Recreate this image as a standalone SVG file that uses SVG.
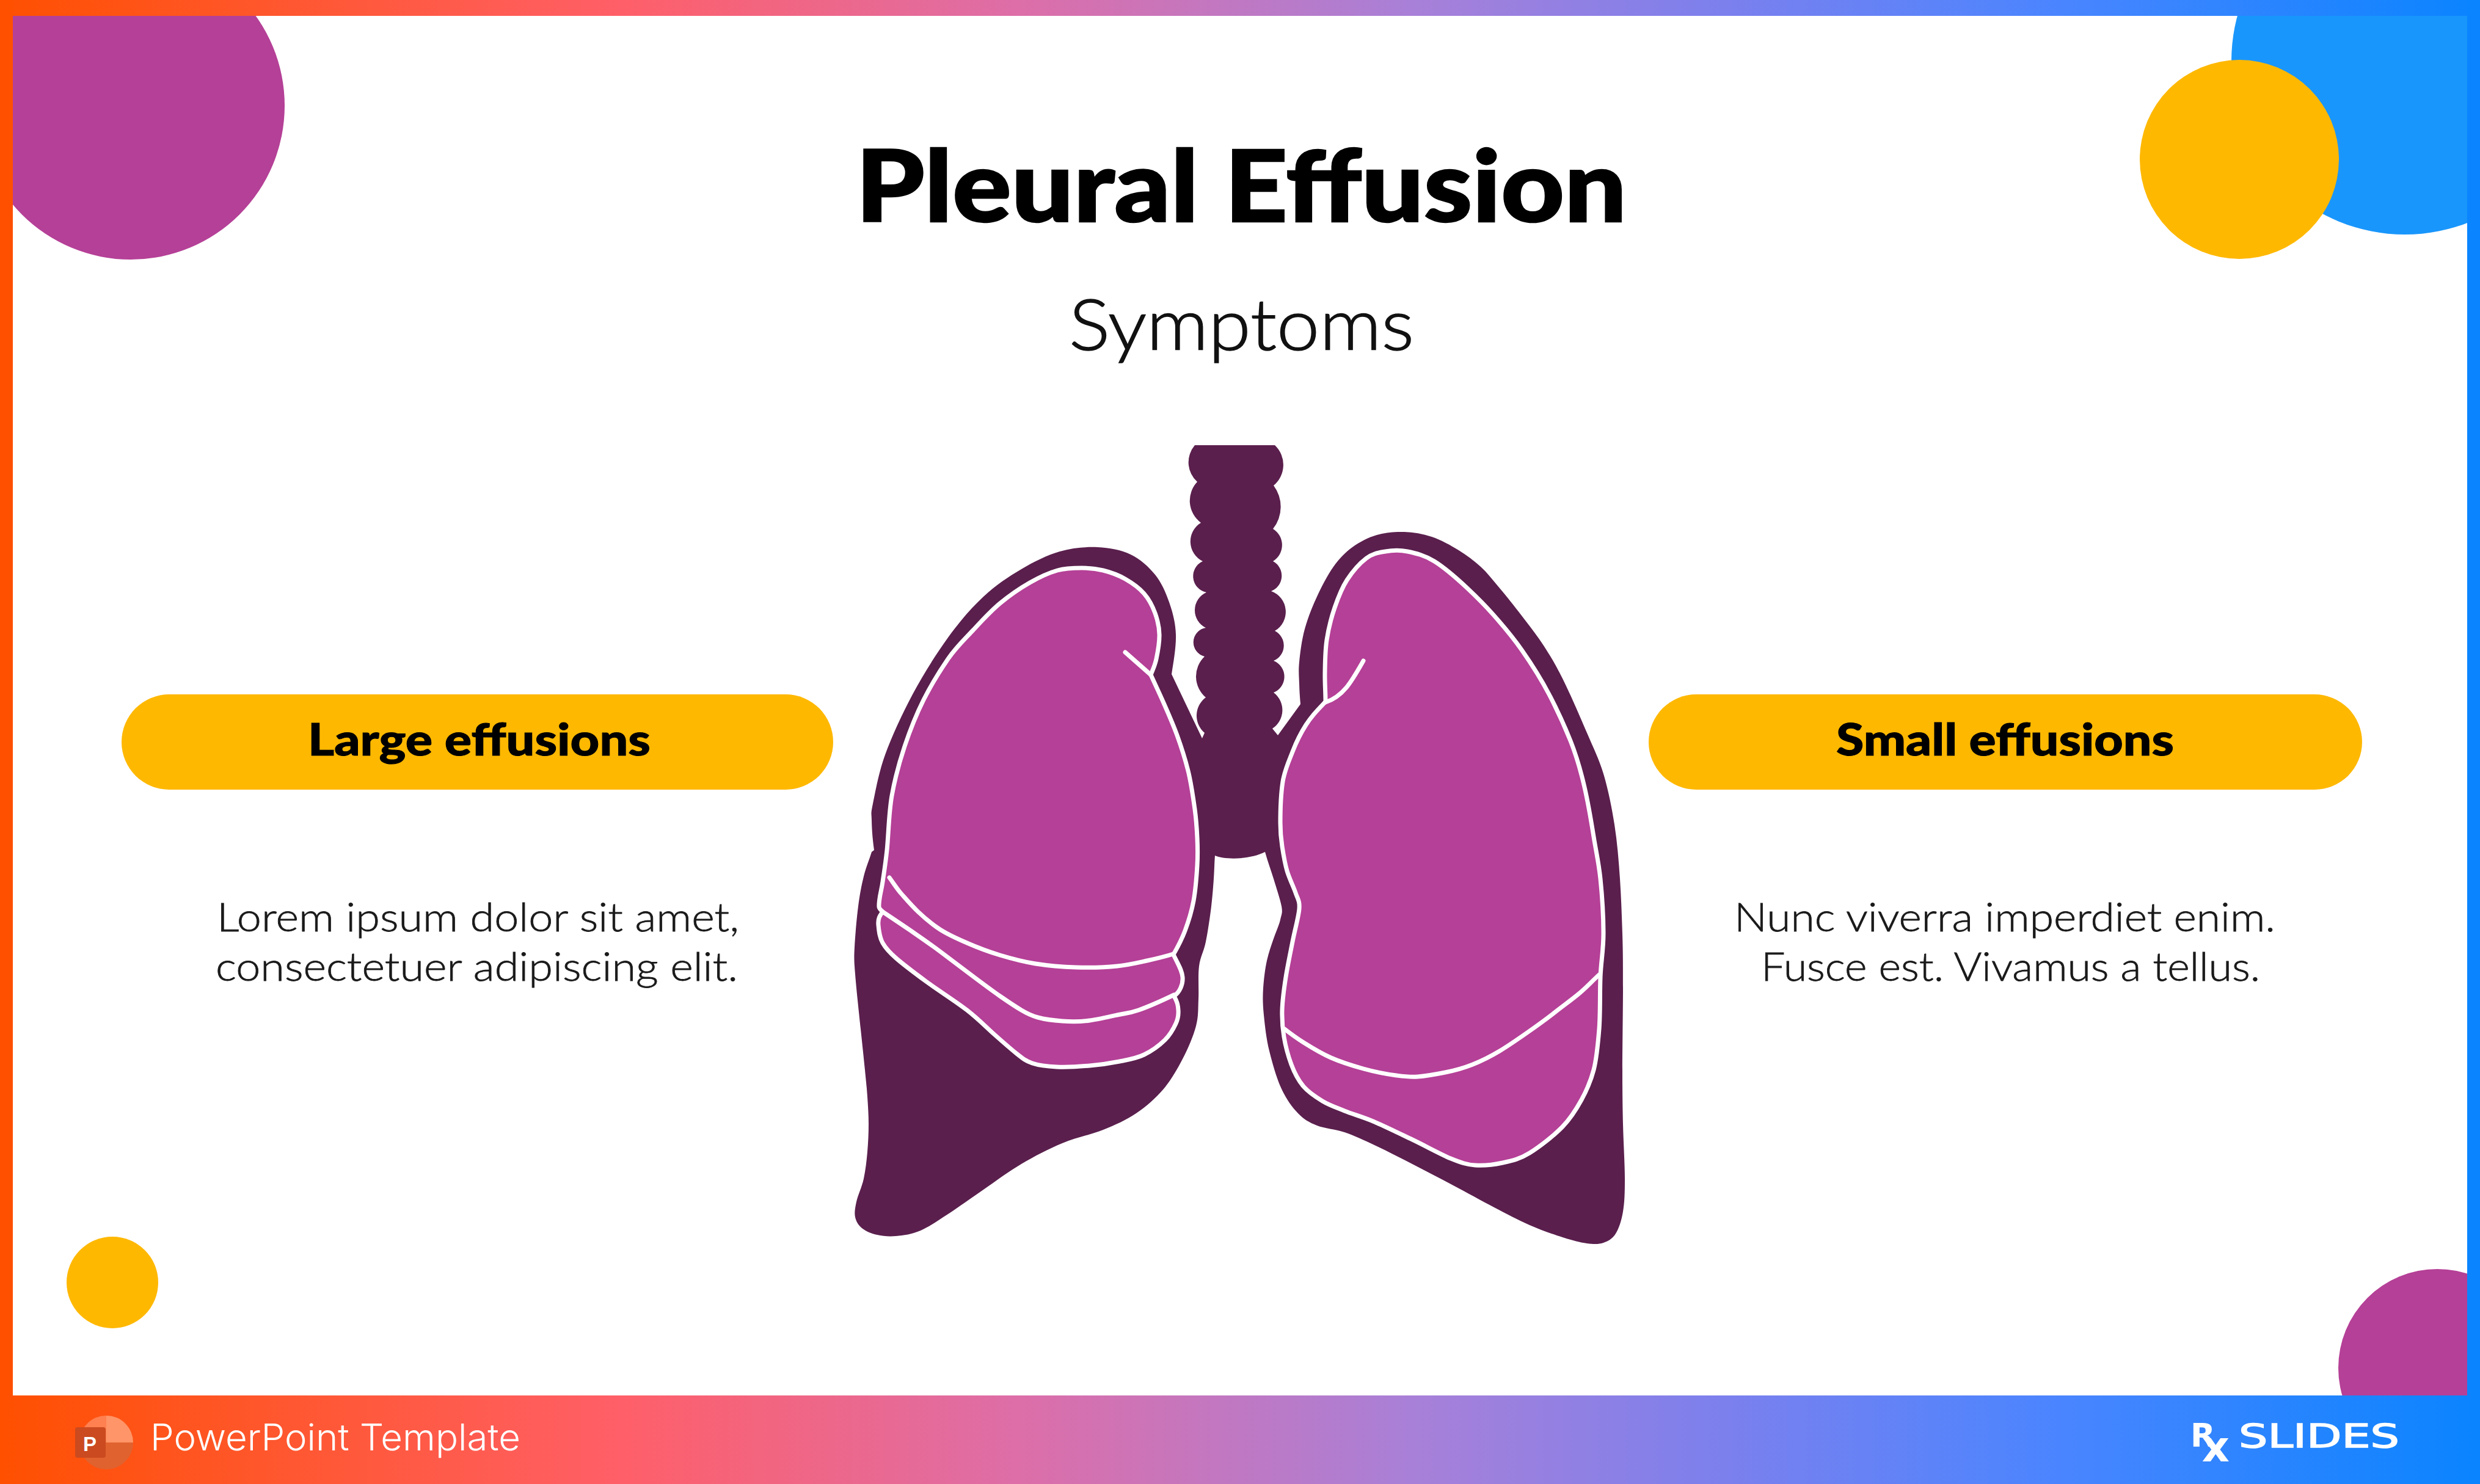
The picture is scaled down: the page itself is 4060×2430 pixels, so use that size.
<svg xmlns="http://www.w3.org/2000/svg" width="4060" height="2430" viewBox="0 0 4060 2430">
<defs>
<linearGradient id="bar" x1="0" y1="0" x2="4060" y2="0" gradientUnits="userSpaceOnUse">
<stop offset="0" stop-color="#FF5000"/><stop offset="0.25" stop-color="#FF5F68"/><stop offset="0.41" stop-color="#DD6EA8"/><stop offset="0.57" stop-color="#A880D8"/><stop offset="0.7" stop-color="#7A80EE"/><stop offset="0.83" stop-color="#4A85FF"/><stop offset="1" stop-color="#0A84FF"/>
</linearGradient>
</defs>
<style>
.pink{fill:#B54097}
.gold{fill:#FFB800}
.dark{fill:#5A1F4D}
.lung{fill:#B54097;stroke:#FFFFFF;stroke-width:7;stroke-linejoin:round}
.line{fill:none;stroke:#FFFFFF;stroke-width:7;stroke-linecap:round}
text{font-family:"Lato","Liberation Sans",sans-serif}
.head{font-size:162px;font-weight:900;fill:#000;stroke:#000;stroke-width:2.5px}
.sub{font-size:116px;font-weight:300;fill:#111;stroke:#111;stroke-width:1.5px}
.tag{font-size:72px;font-weight:900;fill:#000;stroke:#000;stroke-width:1px}
.body{font-size:66px;font-weight:300;fill:#1A1A1A;stroke:#1A1A1A;stroke-width:0.8px}
.foot{font-family:"DejaVu Sans",sans-serif;fill:#FFFFFF}
</style>
<rect width="4060" height="2430" fill="#FFFFFF"/>
<g id="decor">
<circle class="pink" cx="214" cy="173" r="252"/>
<circle cx="3937" cy="100" r="284" fill="#1996FC"/>
<circle class="gold" cx="3666" cy="261" r="163"/>
<circle class="gold" cx="184" cy="2100" r="75"/>
<circle class="pink" cx="3990" cy="2240" r="162"/>
</g>
<g id="frame">
<rect x="0" y="0" width="4060" height="26" fill="url(#bar)"/>
<rect x="0" y="0" width="21" height="2430" fill="#FF5000"/>
<rect x="4039" y="0" width="21" height="2430" fill="#0A84FF"/>
<rect x="0" y="2285" width="4060" height="145" fill="url(#bar)"/>
</g>
<g id="title">
<text class="head" x="1401" y="363" textLength="1262" lengthAdjust="spacingAndGlyphs">Pleural Effusion</text>
<text class="sub" x="1750" y="573" textLength="565" lengthAdjust="spacingAndGlyphs">Symptoms</text>
</g>
<g id="lungs">
<path id="body" class="dark" d="M1956,729 A43,43 0 0 0 1960,789 A45,45 0 0 0 1966,856 A36,36 0 0 0 1969,919 A27,27 0 0 0 1975,970 A32,32 0 0 0 1974,1028 A24,24 0 0 0 1972,1075 A45,45 0 0 0 1974,1142 A37,37 0 0 0 1972,1200 L1968,1209 L1918,1104
C1921,1085 1925.7,1058.7 1925,1039 S1919.7,1002.3 1914,986 S1901.5,954 1891,941 S1866.7,915.5 1851,908 S1816.3,896.8 1797,896 S1755.8,897 1735,903 S1692.8,919.7 1672,932 S1630,958.3 1610,977 S1571.3,1017.3 1552,1044 S1511,1105 1494,1137 S1459.8,1206.2 1449,1236 S1432.7,1298.2 1429,1316 S1426.7,1330.3 1427,1343 S1428,1370 1431,1392 L1427,1395
C1423,1408 1417.7,1420 1414,1435 S1407.5,1465 1405,1484 S1400,1532.5 1399,1551 S1398.3,1572.7 1400,1595 S1406.3,1659 1409,1685 S1414.2,1733.5 1416,1752 S1419,1781 1420,1796 S1422,1826 1422,1841 S1421.3,1871 1420,1886 S1417,1916 1414,1930 S1404.3,1957.5 1402,1968 S1398.5,1986 1400,1993 S1405,2006 1411,2011 S1426.7,2020 1436,2022 S1455,2025 1467,2024 S1493,2021 1507,2015 S1535,1999 1552,1988 S1590,1961.7 1610,1948 S1650.5,1918.7 1672,1906 S1716.7,1881.3 1739,1872 S1786,1858 1806,1850 S1843.5,1834 1860,1823 S1892.3,1798 1905,1783 S1927,1751 1936,1734 S1953.7,1696.3 1958,1680 S1961.2,1652.3 1962,1636 S1961,1597.7 1963,1582 S1970.7,1558.3 1974,1542 S1981,1501 1983,1484 S1986,1453 1987,1439 S1988,1414 1989,1401
C2005,1408 2045,1408 2071,1395 C2075,1410 2080.5,1424 2085,1439 S2096,1473 2098,1484 S2098,1497 2096,1506 S2088.7,1526 2085,1537 S2077,1559.5 2074,1573 S2069,1603 2068,1618 S2067.3,1645 2069,1662 S2073,1701 2078,1721 S2090,1766 2098,1783 S2115.3,1813 2125,1823 S2143.3,1838 2156,1843 S2185.3,1848.7 2201,1854 S2231.5,1866.3 2250,1875 S2290.5,1895 2312,1906 S2356.7,1929.2 2379,1941 S2425.2,1966.2 2446,1977 S2485.3,1997.8 2504,2006 S2542.3,2021 2558,2026 S2587,2034.5 2598,2036 S2617.2,2037.7 2625,2035 S2639.7,2028.5 2645,2020 S2654.5,1999 2657,1984 S2660,1954 2660,1930 S2657.7,1871 2657,1841 S2656,1789 2656,1752 S2657,1655 2657,1618 S2657,1559 2656,1529 S2654,1469 2652,1439 S2647.5,1378.7 2643,1350 S2632.5,1292 2625,1267 S2609,1226 2598,1200 S2570,1135 2558,1111 S2538,1074 2527,1057 S2503,1023.7 2491,1008 S2466,976 2455,963 S2435,938 2424,928 S2401,909 2388,901 S2359,884 2344,879 S2314,871.5 2299,871 S2268,872 2254,876 S2226,887.3 2214,896 S2192.7,914.5 2183,928 S2164,960 2156,977 S2141,1012 2136,1030 S2128.5,1069 2127,1084 S2126.7,1108.5 2127,1120 S2128,1142 2129,1153
L2092,1204 L2083,1193 A36,36 0 0 0 2085,1134 A28,28 0 0 0 2085,1082 A27,27 0 0 0 2087,1033 A36,36 0 0 0 2081,968 A27,27 0 0 0 2084,919 A31,31 0 0 0 2084,866 A58,58 0 0 0 2085,795 A44,44 0 0 0 2087,729 Z"/>
<path id="left-lung" class="lung" d="M1884,1105 C1887,1097 1890.7,1090 1893,1079 S1898.3,1051.5 1898,1039 S1895,1015 1891,1004 S1881,981.3 1873,972 S1853,954.3 1842,948 S1818,937 1806,934 S1783.5,930 1771,930 S1745,930 1731,934 S1701.7,945 1686,954 S1652.7,975 1637,988 S1606,1018 1592,1033 S1565,1060 1552,1079 S1524,1122 1512,1146 S1489.7,1196 1481,1222 S1465,1275 1460,1303 S1454.5,1368.5 1452,1392 S1447,1430 1445,1444 S1441,1462 1439.5,1475 S1439,1487 1445,1493
C1440,1500 1437,1504 1438,1515 S1440,1535 1445,1544 S1455,1558.5 1467,1569 S1497,1593 1516,1607 S1564.3,1639.5 1583,1654 S1614.5,1682 1628,1694 S1654,1717 1664,1725 S1679,1737.3 1690,1741 S1714.3,1746.3 1730,1747 S1767,1746.5 1784,1745 S1818,1741 1833,1738 S1860.7,1733 1873,1727 S1898.3,1711.5 1907,1703 S1921.3,1684 1925,1676 S1929.5,1661.5 1929,1654 S1928,1642 1922,1631
C1931,1625 1937,1612 1936,1600 C1935,1588 1928,1578 1921,1563 C1929,1549 1934.5,1538.7 1940,1524 S1950.7,1493 1954,1475 S1959,1434 1960,1417 S1960.7,1387 1960,1372 S1958.5,1343 1956,1325 S1950,1282 1945,1262 S1933.7,1222.5 1927,1204 S1912,1167 1905,1151 S1894,1127 1884,1105 Z"/>
<path class="line" d="M1456,1437 C1462,1445 1468,1455 1476,1464 S1492.5,1483 1503,1493 S1526,1513.5 1539,1522 S1567,1537 1583,1544 S1618,1558.3 1637,1564 S1674,1574.7 1695,1578 S1740,1583.3 1762,1584 S1810,1584 1829,1582 S1863,1576.3 1878,1573 S1905,1567 1921,1562"/>
<path class="line" d="M1445,1493 C1460,1503 1478.3,1515.2 1494,1526 S1523,1546 1539,1558 S1576,1586 1592,1598 S1624,1622 1637,1631 S1662,1648 1672,1654 S1688,1663 1699,1666 S1725,1671 1739,1672 S1769,1673 1784,1671 S1816,1665 1829,1662 S1848.5,1659.5 1864,1654 S1895,1642 1922,1629"/>
<path class="line" d="M1842,1068 L1884,1105"/>
<path id="right-lung" class="lung" d="M2170,1149 C2170,1133 2168.7,1119 2169,1102 S2169.3,1066 2172,1048 S2179.5,1011 2185,995 S2196.3,963.5 2205,950 S2226.5,922 2237,914 S2257,905 2268,903 S2291,900.3 2304,903 S2332,909 2348,919 S2386,948 2402,963 S2431,991 2446,1008 S2476,1042.5 2491,1064 S2523,1112 2536,1137 S2561,1188 2571,1213 S2588,1263 2594,1289 S2605,1345 2609,1370 S2617.3,1412.5 2620,1439 S2625,1502 2625,1529 S2621,1574 2620,1600 S2620,1660 2618,1685 S2614,1733 2609,1752 S2597.5,1785.5 2589,1801 S2572,1830.5 2558,1845 S2520,1878 2504,1888 S2475,1900.7 2460,1904 S2429,1909 2415,1908 S2392,1904 2375,1897 S2333,1876 2312,1866 S2268.5,1845 2250,1837 S2215,1824.7 2201,1819 S2176,1809.7 2165,1803 S2142.5,1789 2134,1779 S2119,1756.5 2114,1743 S2104.5,1713 2102,1698 S2098.5,1670 2099,1654 S2102,1619 2105,1600 S2112.3,1561 2116,1542 S2126,1501 2127,1488 S2124.3,1472 2121,1462 S2110.7,1438.7 2107,1426 S2101,1399 2099,1386 S2096,1365 2096,1347 S2097,1299 2100,1280 S2110,1246.5 2116,1231 S2129,1201 2138,1187 S2153,1167 2170,1149 Z"/>
<path class="line" d="M2232,1082 C2224,1096 2214,1114 2204,1126 C2194,1138 2182,1146 2170,1150"/>
<path class="line" d="M2103,1685 C2112,1692 2121.3,1699 2134,1707 S2163,1725 2179,1732 S2214,1745 2232,1750 S2271,1759 2286,1761 S2308,1764 2321,1763 S2351,1759 2366,1756 S2396,1749 2411,1743 S2440,1730 2455,1721 S2485,1701.5 2500,1691 S2531,1669 2545,1658 S2573,1637 2585,1627 S2603,1610 2618,1596"/>
</g>
<g id="large-effusions">
<rect class="gold" x="199" y="1137" width="1165" height="156" rx="78" ry="78"/>
<text class="tag" x="504" y="1237" textLength="561" lengthAdjust="spacingAndGlyphs">Large effusions</text>
<text class="body" x="355" y="1525" textLength="855" lengthAdjust="spacingAndGlyphs">Lorem ipsum dolor sit amet,</text>
<text class="body" x="353" y="1606" textLength="855" lengthAdjust="spacingAndGlyphs">consectetuer adipiscing elit.</text>
</g>
<g id="small-effusions">
<rect class="gold" x="2699" y="1137" width="1168" height="156" rx="78" ry="78"/>
<text class="tag" x="3006" y="1237" textLength="553" lengthAdjust="spacingAndGlyphs">Small effusions</text>
<text class="body" x="2839" y="1525" textLength="886" lengthAdjust="spacingAndGlyphs">Nunc viverra imperdiet enim.</text>
<text class="body" x="2883" y="1606" textLength="817" lengthAdjust="spacingAndGlyphs">Fusce est. Vivamus a tellus.</text>
</g>
<g id="footer-left">
<path d="M174,2318 A44,44 0 0 1 218,2362 L174,2362 Z" fill="#FF9568"/>
<path d="M174,2318 A44,44 0 0 0 130,2362 L174,2362 Z" fill="#FF8050"/>
<path d="M130,2362 A44,44 0 0 0 218,2362 Z" fill="#E0622F"/>
<rect x="123" y="2337" width="50" height="50" rx="4" fill="#CB4A20"/>
<text x="147" y="2376" font-size="33" font-weight="700" fill="#FFFFFF" text-anchor="middle" style="font-family:'Liberation Sans',sans-serif">P</text>
<text x="246" y="2375" font-size="60" font-weight="300" fill="#FFFFFF" textLength="606" lengthAdjust="spacingAndGlyphs" style="font-family:Inter,'Liberation Sans',sans-serif">PowerPoint Template</text>
</g>
<g id="footer-right">
<text class="foot" x="3586" y="2369" font-size="53" font-weight="700">R<tspan dx="-22" dy="24" font-size="70">x</tspan></text>
<text class="foot" x="3665" y="2370" font-size="53" font-weight="400" stroke="#FFFFFF" stroke-width="1.5" textLength="263" lengthAdjust="spacingAndGlyphs">SLIDES</text>
</g>
</svg>
